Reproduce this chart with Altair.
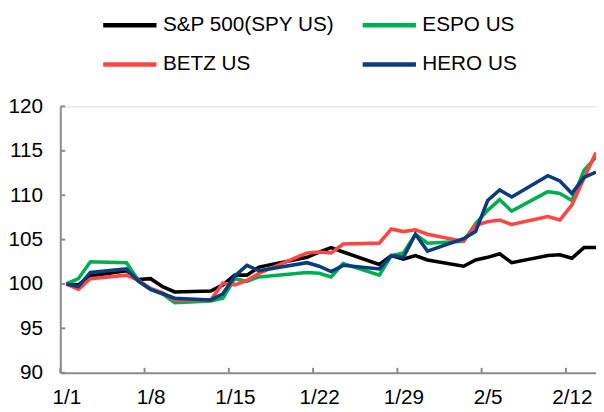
import altair as alt
import pandas as pd

dates = ["2020-01-01", "2020-01-02", "2020-01-03", "2020-01-06", "2020-01-07", "2020-01-08",
         "2020-01-09", "2020-01-10", "2020-01-13", "2020-01-14", "2020-01-15", "2020-01-16",
         "2020-01-17", "2020-01-21", "2020-01-22", "2020-01-23", "2020-01-24", "2020-01-27",
         "2020-01-28", "2020-01-29", "2020-01-30", "2020-01-31", "2020-02-03", "2020-02-04",
         "2020-02-05", "2020-02-06", "2020-02-07", "2020-02-10", "2020-02-11", "2020-02-12",
         "2020-02-13", "2020-02-14"]

spy = [100, 99.9, 100.9, 101.5, 100.5, 100.6, 99.7, 99.1, 99.2, 99.9, 101.0, 101.0,
       101.9, 103.0, 103.6, 104.1, 103.6, 102.2, 103.2, 102.8, 103.2, 102.7, 102.0, 102.7,
       103.0, 103.4, 102.4, 103.2, 103.3, 102.9, 104.1, 104.1]
espo = [100, 100.6, 102.5, 102.4, 100.4, 99.4, 98.9, 97.9, 98.1, 98.4, 100.6, 100.3,
        100.8, 101.3, 101.2, 100.8, 102.3, 101.0, 103.2, 103.5, 105.6, 104.6, 104.8, 106.8,
        108.3, 109.5, 108.2, 110.4, 110.2, 109.4, 112.8, 114.3]
betz = [100, 99.4, 100.6, 101.0, 100.4, 99.5, 99.0, 98.2, 98.2, 100.1, 99.9, 100.4,
        101.2, 103.5, 103.6, 103.5, 104.5, 104.6, 106.2, 105.9, 106.1, 105.6, 104.8, 106.6,
        107.0, 107.2, 106.7, 107.6, 107.2, 108.9, 111.9, 114.8]
hero = [100, 99.7, 101.3, 101.7, 100.3, 99.4, 98.9, 98.4, 98.2, 98.9, 100.9, 102.1,
        101.5, 102.4, 102.0, 101.4, 102.1, 101.7, 103.2, 103.0, 105.6, 103.7, 105.1, 105.9,
        109.4, 110.6, 109.8, 112.2, 111.6, 110.2, 112.0, 112.6]

series_names = ["S&P 500(SPY US)", "ESPO US", "BETZ US", "HERO US"]
# legend fills column by column: S&P / BETZ in first column, ESPO / HERO in second
legend_order = ["S&P 500(SPY US)", "BETZ US", "ESPO US", "HERO US"]
legend_colors = ["#000000", "#FF4444", "#00B050", "#0B3C7D"]

y_ticks = [90, 95, 100, 105, 110, 115, 120]
x_label_dates = ["2020-01-01", "2020-01-08", "2020-01-15", "2020-01-22",
                 "2020-01-29", "2020-02-05", "2020-02-12"]

rows = []
for i, (name, vals) in enumerate(zip(series_names, [spy, espo, betz, hero])):
    for d, v in zip(dates, vals):
        rows.append({"date": d, "value": v, "series": name, "series_order": i})
df = pd.DataFrame(rows)

FONT = "Liberation Sans"
AXIS_COLOR = "#8C8C8C"

x_scale = alt.Scale(domain=["2019-12-31T12:00:00", "2020-02-14T00:00:00"])
y_scale = alt.Scale(domain=[90, 120], nice=False, zero=False)

x_label_values = [alt.DateTime(year=int(s[:4]), month=int(s[5:7]), date=int(s[8:10])) for s in x_label_dates]

lines = alt.Chart(df).mark_line(strokeWidth=3.6, clip=True).encode(
    x=alt.X("date:T", scale=x_scale,
            axis=alt.Axis(values=x_label_values, format="%-m/%-d", title=None, ticks=False,
                          grid=False, labelFontSize=21, labelFont=FONT, labelColor="#000000",
                          labelPadding=14, domainColor=AXIS_COLOR, domainWidth=2,
                          labelFlush=False, labelOverlap=False)),
    y=alt.Y("value:Q", scale=y_scale,
            axis=alt.Axis(values=y_ticks, title=None, ticks=False, grid=False,
                          labelFontSize=21, labelFont=FONT, labelColor="#000000",
                          labelPadding=18, domainColor=AXIS_COLOR, domainWidth=2)),
    color=alt.Color("series:N",
                    scale=alt.Scale(domain=legend_order, range=legend_colors),
                    legend=alt.Legend(orient="none", legendX=41, legendY=-112, columns=2,
                                      title=None, symbolType="stroke", symbolSize=2916,
                                      symbolStrokeWidth=4.5, labelFontSize=21, labelFont=FONT,
                                      labelColor="#000000", labelOffset=4, columnPadding=19,
                                      rowPadding=-20, padding=0, labelLimit=400)),
    order=alt.Order("series_order:Q"),
)

ytick_df = pd.DataFrame({"v": y_ticks})
yticks = alt.Chart(ytick_df).mark_rule(color=AXIS_COLOR, strokeWidth=2).encode(
    y=alt.Y("v:Q", scale=y_scale),
    x=alt.value(0), x2=alt.value(5),
)

xtick_df = pd.DataFrame({"d": (pd.to_datetime(x_label_dates) - pd.Timedelta(hours=12)).strftime("%Y-%m-%dT%H:%M:%S")})
xticks = alt.Chart(xtick_df).mark_rule(color=AXIS_COLOR, strokeWidth=2).encode(
    x=alt.X("d:T", scale=x_scale),
    y=alt.value(270), y2=alt.value(265),
)

chart = alt.layer(yticks, xticks, lines).properties(
    width=543, height=270,
    padding={"left": 53, "top": 97, "right": 0, "bottom": 37},
    autosize=alt.AutoSizeParams(type="none"),
).configure_view(stroke=None).configure(font=FONT)

chart.save("out.html", embed_options={"renderer": "svg", "actions": False})
